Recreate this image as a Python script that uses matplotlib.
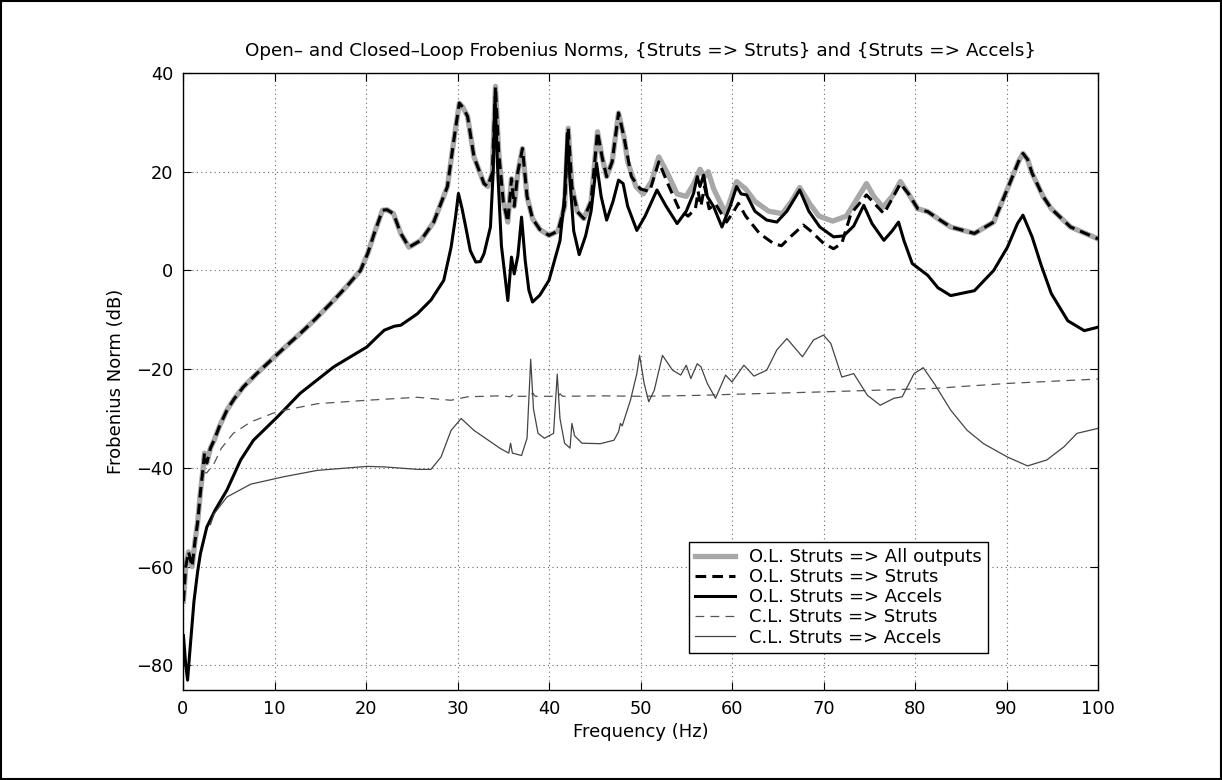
import numpy as np
import matplotlib
matplotlib.use('Agg')
import matplotlib.pyplot as plt
from matplotlib.patches import Rectangle

plt.rcParams['font.family'] = ['DejaVu Sans']

# (frequency Hz, dB)
ol_struts = [(0.05, -67), (0.3, -60), (0.6, -57), (1.0, -60), (1.3, -55), (1.6, -51), (1.9, -45),
             (2.2, -40), (2.35, -37), (2.6, -39), (3.0, -36), (3.4, -34.4), (4.0, -31.5), (4.8, -28.3),
             (5.6, -26), (6.6, -23.6), (8.0, -21), (9.2, -18.9), (11.0, -15.8), (12.8, -12.8),
             (14.5, -9.8), (16.5, -6), (18.0, -3), (19.4, 0), (20.2, 3.5), (20.9, 7.5), (21.8, 12.2),
             (22.3, 12.3), (23.0, 11.5), (23.8, 7.5), (24.7, 4.7), (26.0, 6.1), (27.4, 9.8), (28.9, 17),
             (29.6, 26.4), (30.2, 33.9), (30.6, 33), (31.1, 31.2), (31.8, 23), (32.9, 17.6), (33.3, 17),
             (33.8, 19.7), (34.15, 37.3), (34.5, 24), (35.0, 14), (35.5, 9.8), (35.9, 18.6), (36.2, 13),
             (36.6, 20), (37.1, 24.7), (37.6, 15), (38.2, 10.5), (39.0, 8.3), (40.0, 7.1), (41.0, 8),
             (41.7, 13), (42.1, 28.8), (42.5, 17), (43.1, 11.9), (43.8, 10.5), (44.6, 14), (45.3, 28.1),
             (45.8, 23), (46.3, 19), (46.9, 22), (47.6, 31.9), (48.2, 27), (49.0, 19), (50.0, 16.5),
             (51.0, 16), (52.0, 22), (53.0, 17.5), (54.2, 12.5), (55.2, 11), (56.0, 12.5), (56.3, 16),
             (56.6, 13), (57.0, 17), (57.5, 12.5), (58.2, 13.5), (59.4, 9.8), (60.2, 12), (60.7, 13.6),
             (61.5, 11), (63.0, 7.5), (64.5, 5.5), (65.4, 5), (66.5, 7), (67.8, 9.2), (68.6, 8),
             (70.0, 5.5), (71.1, 4.4), (72.0, 5.5), (73.0, 11.5), (74.7, 15.3), (75.6, 13.5), (76.6, 11.5),
             (77.5, 14.5), (78.4, 17.6), (79.3, 15.5), (80.3, 12.5), (81.4, 11.9), (82.5, 10.5),
             (83.9, 8.8), (86.5, 7.5), (88.6, 9.8), (90.5, 18.3), (91.3, 22), (91.8, 23.7), (92.3, 22.5),
             (92.8, 19.7), (94.0, 15), (94.9, 12.5), (97.0, 8.8), (100.0, 6.4)]

# all outputs differs from struts only where accels dominate
ol_all_mid = [(48.6, 22), (49.5, 17), (50.3, 15.5), (51.2, 18), (52.0, 23), (53.0, 19.5), (54.0, 15.5),
              (55.0, 15), (55.8, 17.5), (56.5, 20.5), (57.0, 19), (57.4, 20), (58.0, 16.5), (59.3, 11.5),
              (60.5, 18), (61.5, 16.5), (62.5, 14), (64.0, 12), (65.5, 11.5), (66.5, 14), (67.4, 16.8),
              (68.5, 13.5), (69.5, 11), (71.0, 10), (72.5, 11), (73.5, 14), (74.7, 17.6), (75.5, 15),
              (76.5, 12.8), (77.5, 15), (78.4, 18)]

ol_accels = [(0.05, -74), (0.3, -80), (0.5, -83), (0.8, -76), (1.2, -67), (1.6, -61), (1.9, -57.4),
             (2.6, -52), (3.5, -48.6), (4.8, -44.5), (6.3, -38.4), (7.7, -34.4), (10.3, -29.7),
             (12.8, -24.9), (16.5, -19.5), (20.1, -15.5), (21.2, -13.5), (22.0, -12.1), (23.1, -11.3),
             (23.8, -11.1), (24.9, -9.7), (25.6, -8.8), (27.1, -6), (28.5, -2), (29.3, 4.7), (29.8, 11),
             (30.1, 15.6), (30.5, 12.5), (30.9, 8.8), (31.4, 4), (32.0, 1.7), (32.5, 1.8), (32.9, 3.4),
             (33.6, 8.8), (33.9, 20), (34.1, 35), (34.4, 20), (34.8, 5), (35.5, -6.1), (35.9, 2.7),
             (36.2, -0.7), (36.6, 3), (37.0, 10.8), (37.4, 2), (37.8, -4), (38.2, -6.4), (39.0, -5),
             (40.0, -2), (41.2, 6), (41.7, 15), (42.0, 27.8), (42.3, 18), (42.7, 8), (43.3, 3.2),
             (44.0, 7), (44.6, 12), (45.2, 21.7), (45.7, 15), (46.3, 10.2), (47.0, 14), (47.6, 18.3),
             (48.1, 17.6), (48.6, 13), (49.6, 8.1), (50.5, 11), (51.8, 16.3), (52.8, 13), (54.0, 9.5),
             (55.0, 12), (55.8, 15.6), (56.2, 19), (56.5, 17), (56.9, 19.3), (57.3, 15), (58.0, 12.9),
             (58.9, 8.8), (59.8, 13), (60.5, 17), (61.0, 15.5), (61.6, 15.3), (62.5, 12), (63.8, 10.2),
             (64.9, 9.8), (66.0, 12), (67.4, 16.3), (68.4, 12), (69.6, 8.8), (71.1, 6.8), (72.2, 7),
             (73.3, 9), (74.4, 13.2), (75.3, 9.5), (76.6, 6.1), (77.5, 8), (78.2, 9.8), (78.8, 6),
             (79.7, 1.4), (81.4, -1), (82.5, -3.5), (83.9, -5.1), (86.5, -4.1), (88.6, 0), (90.1, 4.7),
             (91.2, 9.5), (91.8, 11.2), (92.3, 9), (92.8, 6.8), (93.8, 1), (94.9, -4.7), (96.7, -10.2),
             (98.5, -12.2), (100.0, -11.5)]

cl_struts = [(2.2, -41), (2.6, -41), (3.4, -39.1), (4.2, -36), (5.5, -33), (7.4, -30.7), (10.3, -28.6),
             (14.7, -27), (20.1, -26.3), (25.6, -25.7), (27.4, -26), (29.3, -26.3), (31.1, -25.6),
             (34.7, -25.4), (35.8, -25.6), (36.1, -25), (36.4, -25.5), (38.0, -25.5), (38.2, -24.8),
             (38.5, -25.5), (41.0, -25.5), (41.2, -25), (41.5, -25.5), (45.6, -25.4), (50.0, -25.5),
             (56.6, -25.3), (60.0, -25.1), (70.0, -24.6), (82.1, -23.9), (90.0, -22.9), (100.0, -22)]

cl_accels = [(3.0, -51.5), (3.4, -49.3), (4.8, -45.9), (7.4, -43.3), (11.0, -41.8), (14.7, -40.5),
             (20.1, -39.7), (22.0, -39.8), (25.6, -40.3), (27.1, -40.3), (28.2, -37.8), (29.3, -32.4),
             (30.4, -30), (31.8, -32.4), (34.7, -36.1), (35.6, -37), (35.8, -35), (36.0, -37),
             (37.0, -37.5), (37.6, -34), (38.0, -18), (38.3, -28), (38.8, -33), (39.5, -34), (40.5, -33),
             (40.9, -21), (41.2, -30), (41.7, -35), (42.3, -36), (42.5, -31), (42.8, -33.5), (43.6, -35),
             (45.6, -35.1), (47.1, -34.4), (47.6, -32.7), (47.8, -31), (48.0, -31.5), (48.9, -26.3),
             (49.6, -20.9), (49.9, -17.2), (50.4, -22.9), (50.9, -26.6), (51.5, -24.3), (52.4, -17.2),
             (53.5, -20.2), (54.4, -21.2), (55.0, -19.2), (55.5, -21.9), (56.2, -18.9), (56.6, -19.5),
             (57.3, -22.9), (58.2, -25.9), (59.3, -21.2), (60.0, -22.6), (61.3, -19.2), (62.4, -21.4),
             (63.8, -20.2), (64.9, -16.1), (66.0, -13.8), (67.7, -17.5), (68.9, -14.1), (70.0, -13.1),
             (70.8, -14.8), (72.0, -21.6), (73.3, -20.9), (74.8, -25.3), (76.2, -27.3), (77.7, -25.9),
             (78.6, -25.6), (79.9, -20.9), (80.9, -19.7), (82.1, -22.9), (83.9, -28.3), (85.7, -32.4),
             (87.5, -35.1), (90.1, -37.8), (92.3, -39.6), (94.4, -38.4), (96.3, -35.7), (97.7, -33),
             (100.0, -32)]

labels = ['O.L. Struts => All outputs', 'O.L. Struts => Struts', 'O.L. Struts => Accels',
          'C.L. Struts => Struts', 'C.L. Struts => Accels']

ol_all = [p for p in ol_struts if p[0] < 48.5] + ol_all_mid + [p for p in ol_struts if p[0] > 78.5]

fig = plt.figure(figsize=(12.22, 7.8), dpi=100)
ax = fig.add_axes([183/1222, 1-690/780, 915/1222, 617/780])

def xy(pts):
    a = np.array(pts)
    return a[:, 0], a[:, 1]

ax.plot(*xy(ol_all), color='#a8a8a8', lw=3.8, label=labels[0], solid_joinstyle='round')
ax.plot(*xy(ol_struts), color='black', lw=2.2, dashes=(3.5, 2), label=labels[1])
ax.plot(*xy(ol_accels), color='black', lw=2.2, label=labels[2])
ax.plot(*xy(cl_struts), color='#555555', lw=0.9, dashes=(7, 5), label=labels[3])
ax.plot(*xy(cl_accels), color='#444444', lw=0.9, label=labels[4])

ax.set_xlim(0, 100); ax.set_ylim(-85, 40)
ax.set_xticks(np.arange(0, 101, 10)); ax.set_yticks(np.arange(-80, 41, 20))
ax.grid(True, color='#666666', lw=0.8, linestyle=(0, (1, 3)))
ax.tick_params(direction='in', length=6, width=0.8, top=True, right=True, labelsize=12.8, pad=7)
for s in ax.spines.values():
    s.set_linewidth(1.0)

ax.set_title('Open\u2013 and Closed\u2013Loop Frobenius Norms, {Struts => Struts} and {Struts => Accels}',
             fontsize=13.2, pad=12)
ax.set_xlabel('Frequency (Hz)', fontsize=13, labelpad=4)
ax.set_ylabel('Frobenius Norm (dB)', fontsize=13, labelpad=8)

leg = ax.legend(loc='lower right', bbox_to_anchor=(0.88, 0.06), fontsize=13, frameon=True, fancybox=False,
                edgecolor='black', framealpha=1, handlelength=2.2, handletextpad=0.8, borderaxespad=0,
                labelspacing=0.12, borderpad=0.35)
leg.get_frame().set_linewidth(1.0)

fig.patches.append(Rectangle((0.001, 0.001), 0.998, 0.998, transform=fig.transFigure,
                             fill=False, ec='black', lw=1.5))

fig.savefig('out.png', dpi=100)
